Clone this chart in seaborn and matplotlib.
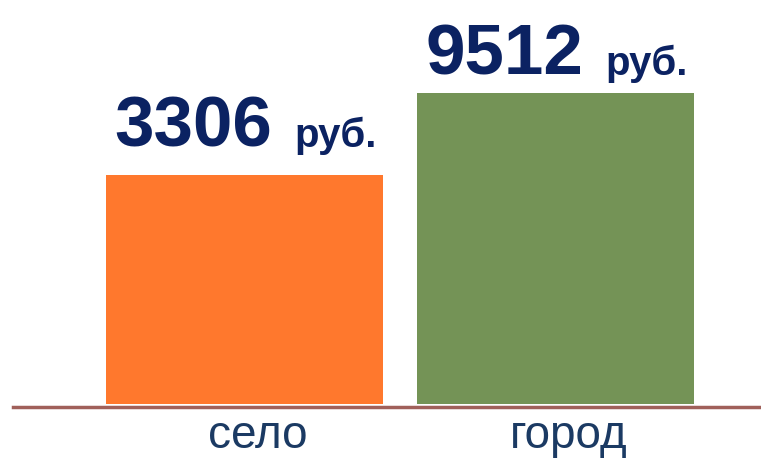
import matplotlib
matplotlib.use("Agg")
import matplotlib.pyplot as plt
import matplotlib.transforms as mtransforms
import seaborn as sns

# Data
categories = ["село", "город"]
values = [3306, 9512]
value_labels = ["3306", "9512"]
unit_label = "руб."
bar_colors = ["#FF782D", "#749356"]

sns.set_style("white")
plt.rcParams["font.family"] = ["Liberation Sans", "DejaVu Sans"]

fig = plt.figure(figsize=(7.61, 4.61), dpi=100)
ax = fig.add_axes([0, 1 - 404 / 461, 1, 404 / 461])

sns.barplot(x=categories, y=values, hue=categories, palette=bar_colors,
            saturation=1, width=0.89, legend=False, linewidth=0, ax=ax)

# heights in the original are not proportional - log axis reproduces them
ax.set_yscale("log")
ax.set_ylim(172.8, 31500)
ax.set_xlim(-0.786, 1.661)

# value labels: big bold number + smaller "руб."
gaps = [28, 18]
for i, (v, txt) in enumerate(zip(values, value_labels)):
    ax.annotate(txt, xy=(i, v), xytext=(28, gaps[i]), textcoords="offset pixels",
                ha="right", va="baseline", fontsize=51, fontweight="bold",
                color="#0B2262")
    ax.annotate(unit_label, xy=(i, v), xytext=(50, gaps[i]), textcoords="offset pixels",
                ha="left", va="baseline", fontsize=29, fontweight="bold",
                color="#0B2262")

# axes styling
for side in ["top", "right", "left"]:
    ax.spines[side].set_visible(False)
ax.spines["bottom"].set_color("#A0605A")
ax.spines["bottom"].set_linewidth(2.5)
ax.spines["bottom"].set_position(("outward", 2))
ax.spines["bottom"].set_bounds(-0.744, 1.661)
ax.set_yticks([])
ax.minorticks_off()
ax.set_ylabel("")
ax.tick_params(axis="x", length=0, pad=5, labelsize=33, labelcolor="#1B3A63")

shift = mtransforms.ScaledTranslation(13 / 100, 0, fig.dpi_scale_trans)
for lbl in ax.get_xticklabels():
    lbl.set_transform(lbl.get_transform() + shift)

fig.savefig("out.png", dpi=100)
